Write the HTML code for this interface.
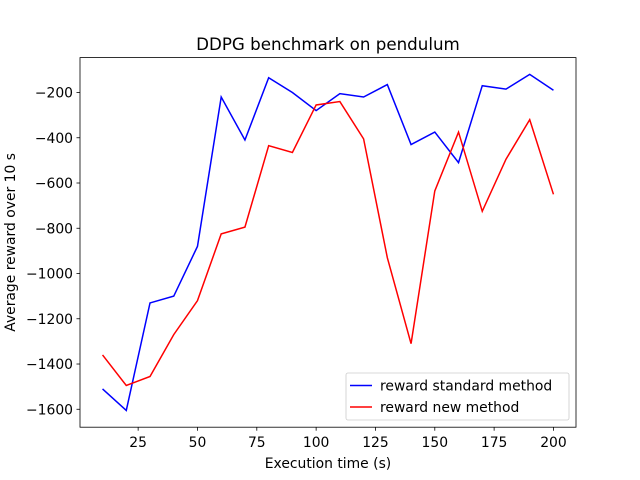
<!DOCTYPE html>
<html><head><meta charset="utf-8">
<style>body{margin:0;background:#fff}svg{display:block;font-family:"DejaVu Sans","Liberation Sans",sans-serif}</style>
</head><body>
<svg id="chart" width="640" height="480"></svg>
<script>
const xs=[10,20,30,40,50,60,70,80,90,100,110,120,130,140,150,160,170,180,190,200];
const blueVals=[-1510,-1605,-1130,-1100,-880,-220,-410,-135,-200,-280,-205,-220,-165,-430,-375,-510,-170,-185,-120,-190];
const redVals=[-1360,-1495,-1455,-1270,-1120,-825,-795,-435,-465,-255,-240,-405,-930,-1310,-635,-375,-725,-495,-320,-650];
const xTicks=[25,50,75,100,125,150,175,200];
const yTicks=[-1600,-1400,-1200,-1000,-800,-600,-400,-200];
const L=80,R=576,T=57.6,B=427.2;
const svg=document.getElementById('chart');const NS='http://www.w3.org/2000/svg';
function mk(t,a,p){const e=document.createElementNS(NS,t);for(const k in a)e.setAttribute(k,a[k]);(p||svg).appendChild(e);return e;}
const xmin0=Math.min(...xs),xmax0=Math.max(...xs),xm=(xmax0-xmin0)*0.05;
const all=blueVals.concat(redVals);const ymin0=Math.min(...all),ymax0=Math.max(...all),ym=(ymax0-ymin0)*0.05;
const X=v=>L+(v-(xmin0-xm))/((xmax0+xm)-(xmin0-xm))*(R-L);
const Y=v=>B-(v-(ymin0-ym))/((ymax0+ym)-(ymin0-ym))*(B-T);
function series(vals,color,name){const p=mk('polyline',{points:xs.map((x,i)=>X(x)+','+Y(vals[i])).join(' '),fill:'none',stroke:color,'stroke-width':1.5});

}
series(blueVals,'#0000ff','line-standard-method');
series(redVals,'#ff0000','line-new-method');
const fr=mk('rect',{x:L,y:T,width:R-L,height:B-T,fill:'none',stroke:'#000','stroke-width':0.8});


xTicks.forEach(t=>{const x=X(t);mk('line',{x1:x,x2:x,y1:B,y2:B+3.5,stroke:'#000','stroke-width':0.8});
const tx=mk('text',{x:x,y:B+20,'font-size':13.9,'text-anchor':'middle'});tx.textContent=t;

});
yTicks.forEach(t=>{const y=Y(t);mk('line',{x1:L-3.5,x2:L,y1:y,y2:y,stroke:'#000','stroke-width':0.8});
const tx=mk('text',{x:L-7,y:y+5,'font-size':13.9,'text-anchor':'end'});tx.textContent='\u2212'+Math.abs(t);

});
let t=mk('text',{x:(L+R)/2,y:50,'font-size':16.7,'text-anchor':'middle'});t.textContent='DDPG benchmark on pendulum';


t=mk('text',{x:(L+R)/2,y:468,'font-size':13.9,'text-anchor':'middle'});t.textContent='Execution time (s)';


t=mk('text',{x:15,y:(T+B)/2,'font-size':13.9,'text-anchor':'middle',transform:'rotate(-90 15 '+((T+B)/2)+')'});t.textContent='Average reward over 10 s';


const lg=mk('g',{});


mk('rect',{x:346,y:373,width:223,height:47,rx:2,fill:'#fff','fill-opacity':0.8,stroke:'#ccc','stroke-width':0.8},lg);
[['reward standard method','#0000ff',385.5],['reward new method','#ff0000',407]].forEach(([n,c,y])=>{
mk('line',{x1:350,x2:372,y1:y,y2:y,stroke:c,'stroke-width':1.5},lg);
const e=mk('text',{x:380,y:y+5,'font-size':13.9},lg);e.textContent=n;

});
</script>
</body></html>
